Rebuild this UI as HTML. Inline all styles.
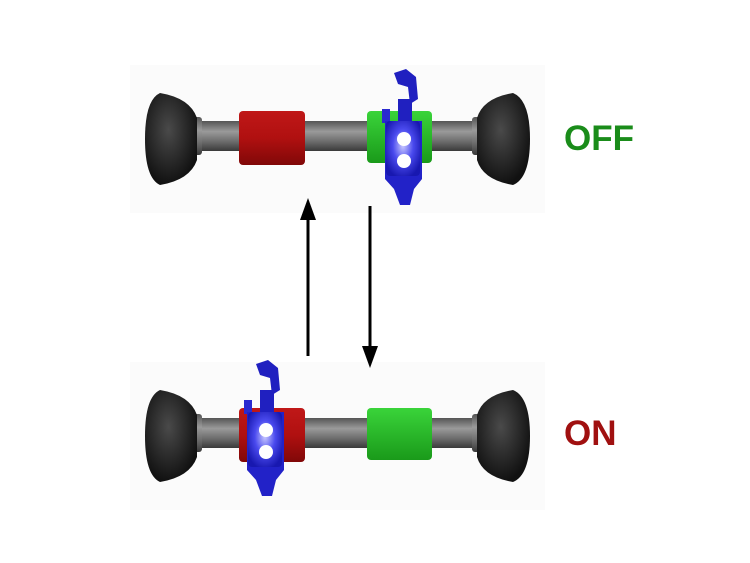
<!DOCTYPE html>
<html><head><style>body{margin:0;background:#fff}svg{display:block}</style></head><body>
<svg width="750" height="563" viewBox="0 0 750 563" xmlns="http://www.w3.org/2000/svg">
<defs>
<linearGradient id="ax" x1="0" y1="0" x2="0" y2="1"><stop offset="0" stop-color="#555"/><stop offset=".35" stop-color="#9a9a9a"/><stop offset=".7" stop-color="#6a6a6a"/><stop offset="1" stop-color="#3a3a3a"/></linearGradient>
<radialGradient id="wh" cx=".45" cy=".4" r=".6"><stop offset="0" stop-color="#4a4a4a"/><stop offset="1" stop-color="#111"/></radialGradient>
<linearGradient id="rd" x1="0" y1="0" x2="0" y2="1"><stop offset="0" stop-color="#c01818"/><stop offset=".5" stop-color="#b01010"/><stop offset="1" stop-color="#800808"/></linearGradient>
<linearGradient id="gr" x1="0" y1="0" x2="0" y2="1"><stop offset="0" stop-color="#3ad43a"/><stop offset="1" stop-color="#1a9a1a"/></linearGradient>
<radialGradient id="bl" cx=".5" cy=".45" r=".6"><stop offset="0" stop-color="#c8c8ff"/><stop offset=".5" stop-color="#4a4aee"/><stop offset="1" stop-color="#1818b0"/></radialGradient>
<g id="axle">
<rect x="190" y="121" width="295" height="30" fill="url(#ax)"/>
<rect x="188" y="117" width="14" height="38" rx="3" fill="url(#ax)"/>
<rect x="472" y="117" width="14" height="38" rx="3" fill="url(#ax)"/>
<path d="M160 93 Q145 100 145 139 Q145 178 160 185 Q190 180 197 160 L197 118 Q190 98 160 93Z" fill="url(#wh)"/>
<path d="M513 93 Q530 100 530 139 Q530 178 513 185 Q483 180 477 160 L477 118 Q483 98 513 93Z" fill="url(#wh)"/>
</g>
<g id="blue">
<path d="M-10 -66 L2 -70 L12 -62 L14 -40 L6 -35 L4 -52 L-6 -55Z" fill="#2020c0"/>
<rect x="-6" y="-40" width="14" height="30" fill="#2020c0"/>
<rect x="-22" y="-30" width="8" height="14" fill="#2a2ad0"/>
<path d="M-19 -18 L18 -18 L18 40 L10 50 L6 66 L-4 66 L-10 50 L-19 40Z" fill="#2222c8"/>
<rect x="-18" y="-18" width="34" height="55" rx="4" fill="url(#bl)"/>
<circle cx="0" cy="0" r="7" fill="#fff"/>
<circle cx="0" cy="22" r="7" fill="#fff"/>
</g>
</defs>
<rect x="130" y="65" width="415" height="148" fill="#fbfbfb"/>
<rect x="130" y="362" width="415" height="148" fill="#fbfbfb"/>
<use href="#axle"/>
<rect x="239" y="111" width="66" height="54" rx="4" fill="url(#rd)"/>
<rect x="367" y="111" width="65" height="52" rx="4" fill="url(#gr)"/>
<use href="#blue" transform="translate(404,139)"/>
<g transform="translate(0,297)">
<use href="#axle"/>
<rect x="239" y="111" width="66" height="54" rx="4" fill="url(#rd)"/>
<rect x="367" y="111" width="65" height="52" rx="4" fill="url(#gr)"/>
<use href="#blue" transform="translate(266,133)"/>
</g>
<line x1="308" y1="356" x2="308" y2="215" stroke="#000" stroke-width="3"/>
<polygon points="308,198 300,220 316,220" fill="#000"/>
<line x1="370" y1="206" x2="370" y2="350" stroke="#000" stroke-width="3"/>
<polygon points="370,368 362,346 378,346" fill="#000"/>
<text x="564" y="150" font-family="Liberation Sans, sans-serif" font-weight="bold" font-size="35" fill="#1a8c1a">OFF</text>
<text x="564" y="445" font-family="Liberation Sans, sans-serif" font-weight="bold" font-size="35" fill="#a01010">ON</text>
</svg>
</body></html>
